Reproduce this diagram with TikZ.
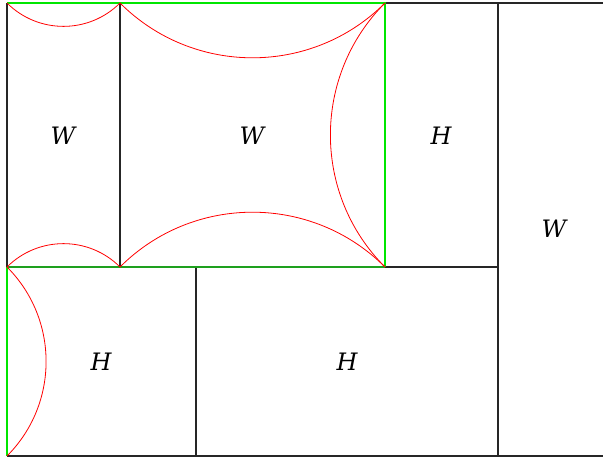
\documentclass[tikz,border=0pt]{standalone}
\usepackage{fontspec}
\setmainfont{DejaVu Serif}
\begin{document}
\begin{tikzpicture}[x=1pt,y=-1pt,
  wall/.style={draw=black!85,line width=1.3pt},
  greenline/.style={draw={rgb,255:red,0;green,230;blue,0},line width=1.4pt},
  greendark/.style={draw={rgb,255:red,30;green,160;blue,30},line width=1.6pt},
  arcline/.style={draw=red,line width=0.8pt},
  lbl/.style={font=\fontsize{24}{24}\selectfont\itshape,inner sep=0pt}]
\useasboundingbox (0,0) rectangle (603,460);
\begin{scope}
\clip (0,0) rectangle (603,460);
% grid coordinates
\coordinate (a1) at (7,3);
\coordinate (a2) at (120,3);
\coordinate (a3) at (385,3);
\coordinate (a4) at (498,3);
\coordinate (a5) at (610,3);
\coordinate (b1) at (7,267);
\coordinate (b2) at (120,267);
\coordinate (b3) at (385,267);
\coordinate (b4) at (498,267);
\coordinate (c1) at (7,456);
\coordinate (c2) at (196,456);
\coordinate (c3) at (498,456);
\coordinate (c4) at (610,456);
\coordinate (b5) at (196,267);
% walls
\draw[wall] (a1) -- (a5) (c1) -- (c4) (a1) -- (c1);
\draw[wall] (a2) -- (b2);
\draw[wall] (a3) -- (b3);
\draw[wall] (a4) -- (c3);
\draw[wall] (b1) -- (b4);
\draw[wall] (b5) -- (c2);
% green path
\draw[greendark] (b1) -- (b3);
\draw[greenline] (c1) -- (b1);
\draw[greenline] (b3) -- (a3) -- (a1);
% red arcs
\draw[arcline] (a1) to[bend right=45] (a2);
\draw[arcline] (b1) to[bend left=45] (b2);
\draw[arcline] (a2) to[bend right=45] (a3);
\draw[arcline] (b2) to[bend left=45] (b3);
\draw[arcline] (a3) to[bend right=45] (b3);
\draw[arcline] (b1) to[bend left=45] (c1);
\end{scope}
% labels
\node[lbl] (w1) at (63,136) {W};
\node[lbl] (w2) at (252,136) {W};
\node[lbl] (h1) at (441,136) {H};
\node[lbl] (w3) at (554,229) {W};
\node[lbl] (h2) at (101,362) {H};
\node[lbl] (h3) at (347,362) {H};
\end{tikzpicture}
\end{document}
